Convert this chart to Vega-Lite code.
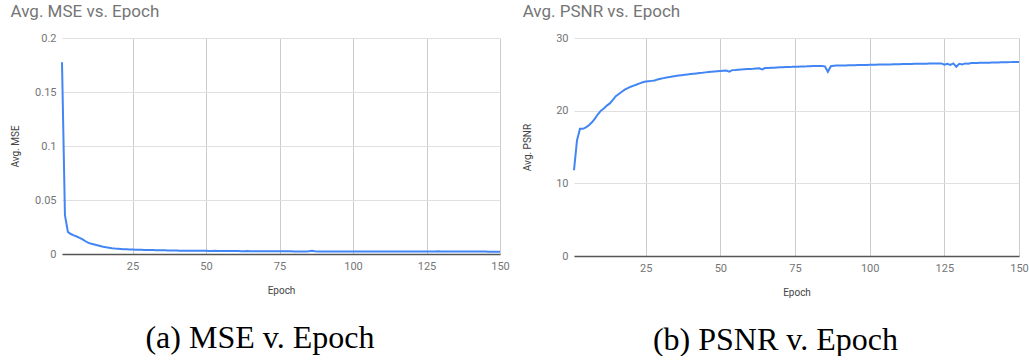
{
  "$schema": "https://vega.github.io/schema/vega-lite/v6.json",
  "padding": {"left": 10, "top": 3, "right": 0, "bottom": 0},
  "background": "white",
  "config": {
    "font": "Roboto",
    "view": {"stroke": null},
    "concat": {"spacing": 12},
    "axis": {
      "labelFont": "Roboto",
      "labelFontSize": 11,
      "labelColor": "#757575",
      "titleFont": "Roboto",
      "titleFontSize": 10,
      "titleFontWeight": "normal",
      "titleColor": "#444444",
      "ticks": false,
      "labelPadding": 6,
      "labelFlush": false
    },
    "axisX": {
      "gridColor": "#cccccc",
      "gridWidth": 1,
      "domainColor": "#555555",
      "domainWidth": 1.5,
      "titlePadding": 14
    },
    "axisY": {
      "gridColor": "#e0e0e0",
      "gridWidth": 1,
      "domain": false
    }
  },
  "datasets": {
    "d": [
      {"epoch": 1, "mse": 0.1776, "psnr": 11.8},
      {"epoch": 2, "mse": 0.036, "psnr": 15.9},
      {"epoch": 3, "mse": 0.0205, "psnr": 17.5},
      {"epoch": 4, "mse": 0.0185, "psnr": 17.5},
      {"epoch": 5, "mse": 0.0172, "psnr": 17.7},
      {"epoch": 6, "mse": 0.0162, "psnr": 18.0},
      {"epoch": 7, "mse": 0.015, "psnr": 18.4},
      {"epoch": 8, "mse": 0.0136, "psnr": 18.9},
      {"epoch": 9, "mse": 0.0118, "psnr": 19.5},
      {"epoch": 10, "mse": 0.0103, "psnr": 20.0},
      {"epoch": 11, "mse": 0.0095, "psnr": 20.3},
      {"epoch": 12, "mse": 0.0088, "psnr": 20.7},
      {"epoch": 13, "mse": 0.0081, "psnr": 21.0},
      {"epoch": 14, "mse": 0.0074, "psnr": 21.5},
      {"epoch": 15, "mse": 0.0067, "psnr": 22.0},
      {"epoch": 16, "mse": 0.0062, "psnr": 22.3},
      {"epoch": 17, "mse": 0.0058, "psnr": 22.6},
      {"epoch": 18, "mse": 0.0054, "psnr": 22.9},
      {"epoch": 19, "mse": 0.0051, "psnr": 23.1},
      {"epoch": 20, "mse": 0.0049, "psnr": 23.3},
      {"epoch": 21, "mse": 0.0047, "psnr": 23.45},
      {"epoch": 22, "mse": 0.0045, "psnr": 23.6},
      {"epoch": 23, "mse": 0.0044, "psnr": 23.75},
      {"epoch": 24, "mse": 0.0042, "psnr": 23.9},
      {"epoch": 25, "mse": 0.0041, "psnr": 24.0},
      {"epoch": 26, "mse": 0.004, "psnr": 24.05},
      {"epoch": 27, "mse": 0.004, "psnr": 24.1},
      {"epoch": 28, "mse": 0.0039, "psnr": 24.15},
      {"epoch": 29, "mse": 0.0038, "psnr": 24.3},
      {"epoch": 30, "mse": 0.0037, "psnr": 24.4},
      {"epoch": 31, "mse": 0.0036, "psnr": 24.48},
      {"epoch": 32, "mse": 0.0036, "psnr": 24.55},
      {"epoch": 33, "mse": 0.0035, "psnr": 24.62},
      {"epoch": 34, "mse": 0.0035, "psnr": 24.7},
      {"epoch": 35, "mse": 0.0034, "psnr": 24.77},
      {"epoch": 36, "mse": 0.0034, "psnr": 24.83},
      {"epoch": 37, "mse": 0.0033, "psnr": 24.88},
      {"epoch": 38, "mse": 0.0033, "psnr": 24.93},
      {"epoch": 39, "mse": 0.0032, "psnr": 24.98},
      {"epoch": 40, "mse": 0.0032, "psnr": 25.03},
      {"epoch": 41, "mse": 0.0031, "psnr": 25.08},
      {"epoch": 42, "mse": 0.0031, "psnr": 25.13},
      {"epoch": 43, "mse": 0.0031, "psnr": 25.18},
      {"epoch": 44, "mse": 0.003, "psnr": 25.22},
      {"epoch": 45, "mse": 0.003, "psnr": 25.27},
      {"epoch": 46, "mse": 0.003, "psnr": 25.31},
      {"epoch": 47, "mse": 0.0029, "psnr": 25.35},
      {"epoch": 48, "mse": 0.0029, "psnr": 25.39},
      {"epoch": 49, "mse": 0.0029, "psnr": 25.43},
      {"epoch": 50, "mse": 0.0029, "psnr": 25.47},
      {"epoch": 51, "mse": 0.0028, "psnr": 25.5},
      {"epoch": 52, "mse": 0.0028, "psnr": 25.53},
      {"epoch": 53, "mse": 0.0029, "psnr": 25.38},
      {"epoch": 54, "mse": 0.0028, "psnr": 25.58},
      {"epoch": 55, "mse": 0.0028, "psnr": 25.6},
      {"epoch": 56, "mse": 0.0028, "psnr": 25.63},
      {"epoch": 57, "mse": 0.0027, "psnr": 25.66},
      {"epoch": 58, "mse": 0.0027, "psnr": 25.69},
      {"epoch": 59, "mse": 0.0027, "psnr": 25.72},
      {"epoch": 60, "mse": 0.0027, "psnr": 25.75},
      {"epoch": 61, "mse": 0.0027, "psnr": 25.77},
      {"epoch": 62, "mse": 0.0026, "psnr": 25.8},
      {"epoch": 63, "mse": 0.0026, "psnr": 25.82},
      {"epoch": 64, "mse": 0.0027, "psnr": 25.68},
      {"epoch": 65, "mse": 0.0026, "psnr": 25.86},
      {"epoch": 66, "mse": 0.0026, "psnr": 25.88},
      {"epoch": 67, "mse": 0.0026, "psnr": 25.9},
      {"epoch": 68, "mse": 0.0026, "psnr": 25.92},
      {"epoch": 69, "mse": 0.0026, "psnr": 25.94},
      {"epoch": 70, "mse": 0.0025, "psnr": 25.96},
      {"epoch": 71, "mse": 0.0025, "psnr": 25.98},
      {"epoch": 72, "mse": 0.0025, "psnr": 26.0},
      {"epoch": 73, "mse": 0.0025, "psnr": 26.02},
      {"epoch": 74, "mse": 0.0025, "psnr": 26.03},
      {"epoch": 75, "mse": 0.0025, "psnr": 26.05},
      {"epoch": 76, "mse": 0.0025, "psnr": 26.06},
      {"epoch": 77, "mse": 0.0025, "psnr": 26.08},
      {"epoch": 78, "mse": 0.0025, "psnr": 26.09},
      {"epoch": 79, "mse": 0.0025, "psnr": 26.1},
      {"epoch": 80, "mse": 0.0024, "psnr": 26.12},
      {"epoch": 81, "mse": 0.0024, "psnr": 26.13},
      {"epoch": 82, "mse": 0.0024, "psnr": 26.14},
      {"epoch": 83, "mse": 0.0024, "psnr": 26.15},
      {"epoch": 84, "mse": 0.0024, "psnr": 26.16},
      {"epoch": 85, "mse": 0.0025, "psnr": 26.1},
      {"epoch": 86, "mse": 0.003, "psnr": 25.35},
      {"epoch": 87, "mse": 0.0025, "psnr": 26.12},
      {"epoch": 88, "mse": 0.0024, "psnr": 26.18},
      {"epoch": 89, "mse": 0.0024, "psnr": 26.2},
      {"epoch": 90, "mse": 0.0024, "psnr": 26.21},
      {"epoch": 91, "mse": 0.0024, "psnr": 26.22},
      {"epoch": 92, "mse": 0.0024, "psnr": 26.23},
      {"epoch": 93, "mse": 0.0024, "psnr": 26.24},
      {"epoch": 94, "mse": 0.0024, "psnr": 26.25},
      {"epoch": 95, "mse": 0.0024, "psnr": 26.26},
      {"epoch": 96, "mse": 0.0023, "psnr": 26.27},
      {"epoch": 97, "mse": 0.0023, "psnr": 26.28},
      {"epoch": 98, "mse": 0.0023, "psnr": 26.29},
      {"epoch": 99, "mse": 0.0023, "psnr": 26.3},
      {"epoch": 100, "mse": 0.0023, "psnr": 26.31},
      {"epoch": 101, "mse": 0.0023, "psnr": 26.32},
      {"epoch": 102, "mse": 0.0023, "psnr": 26.33},
      {"epoch": 103, "mse": 0.0023, "psnr": 26.34},
      {"epoch": 104, "mse": 0.0023, "psnr": 26.35},
      {"epoch": 105, "mse": 0.0023, "psnr": 26.36},
      {"epoch": 106, "mse": 0.0023, "psnr": 26.37},
      {"epoch": 107, "mse": 0.0023, "psnr": 26.37},
      {"epoch": 108, "mse": 0.0023, "psnr": 26.38},
      {"epoch": 109, "mse": 0.0023, "psnr": 26.39},
      {"epoch": 110, "mse": 0.0023, "psnr": 26.4},
      {"epoch": 111, "mse": 0.0023, "psnr": 26.41},
      {"epoch": 112, "mse": 0.0023, "psnr": 26.42},
      {"epoch": 113, "mse": 0.0023, "psnr": 26.42},
      {"epoch": 114, "mse": 0.0023, "psnr": 26.43},
      {"epoch": 115, "mse": 0.0023, "psnr": 26.44},
      {"epoch": 116, "mse": 0.0023, "psnr": 26.45},
      {"epoch": 117, "mse": 0.0023, "psnr": 26.45},
      {"epoch": 118, "mse": 0.0023, "psnr": 26.46},
      {"epoch": 119, "mse": 0.0023, "psnr": 26.47},
      {"epoch": 120, "mse": 0.0023, "psnr": 26.48},
      {"epoch": 121, "mse": 0.0023, "psnr": 26.48},
      {"epoch": 122, "mse": 0.0023, "psnr": 26.49},
      {"epoch": 123, "mse": 0.0023, "psnr": 26.5},
      {"epoch": 124, "mse": 0.0023, "psnr": 26.5},
      {"epoch": 125, "mse": 0.0024, "psnr": 26.32},
      {"epoch": 126, "mse": 0.0023, "psnr": 26.45},
      {"epoch": 127, "mse": 0.0024, "psnr": 26.3},
      {"epoch": 128, "mse": 0.0023, "psnr": 26.5},
      {"epoch": 129, "mse": 0.0025, "psnr": 26.05},
      {"epoch": 130, "mse": 0.0023, "psnr": 26.45},
      {"epoch": 131, "mse": 0.0023, "psnr": 26.35},
      {"epoch": 132, "mse": 0.0023, "psnr": 26.5},
      {"epoch": 133, "mse": 0.0023, "psnr": 26.45},
      {"epoch": 134, "mse": 0.0022, "psnr": 26.55},
      {"epoch": 135, "mse": 0.0022, "psnr": 26.56},
      {"epoch": 136, "mse": 0.0022, "psnr": 26.57},
      {"epoch": 137, "mse": 0.0022, "psnr": 26.58},
      {"epoch": 138, "mse": 0.0022, "psnr": 26.59},
      {"epoch": 139, "mse": 0.0022, "psnr": 26.6},
      {"epoch": 140, "mse": 0.0022, "psnr": 26.61},
      {"epoch": 141, "mse": 0.0022, "psnr": 26.62},
      {"epoch": 142, "mse": 0.0022, "psnr": 26.63},
      {"epoch": 143, "mse": 0.0022, "psnr": 26.64},
      {"epoch": 144, "mse": 0.0022, "psnr": 26.65},
      {"epoch": 145, "mse": 0.0022, "psnr": 26.66},
      {"epoch": 146, "mse": 0.0021, "psnr": 26.67},
      {"epoch": 147, "mse": 0.0021, "psnr": 26.68},
      {"epoch": 148, "mse": 0.0021, "psnr": 26.69},
      {"epoch": 149, "mse": 0.0021, "psnr": 26.7},
      {"epoch": 150, "mse": 0.0021, "psnr": 26.7}
    ]
  },
  "hconcat": [
    {
      "title": {"text": "(a) MSE v. Epoch", "orient": "bottom", "anchor": "middle", "font": "Liberation Serif", "fontSize": 32, "fontWeight": "normal", "color": "#000000", "offset": 28},
      "vconcat": [
        {
          "width": 438,
          "height": 216,
          "title": {"text": "Avg. MSE vs. Epoch", "anchor": "start", "font": "Roboto", "fontSize": 17, "fontWeight": "normal", "color": "#757575", "offset": 11},
          "data": {"name": "d"},
          "mark": {"type": "line", "color": "#4285F4", "strokeWidth": 2},
          "encoding": {
            "x": {"field": "epoch", "type": "quantitative", "scale": {"domain": [1, 150], "nice": false, "zero": false}, "axis": {"values": [25, 50, 75, 100, 125, 150], "title": "Epoch"}},
            "y": {"field": "mse", "type": "quantitative", "scale": {"domain": [0, 0.2], "nice": false}, "axis": {"values": [0, 0.05, 0.1, 0.15, 0.2], "format": "~g", "title": "Avg. MSE", "titlePadding": 14}}
          }
        }
      ]
    },
    {
      "title": {"text": "(b) PSNR v. Epoch", "orient": "bottom", "anchor": "middle", "font": "Liberation Serif", "fontSize": 32, "fontWeight": "normal", "color": "#000000", "offset": 28},
      "vconcat": [
        {
          "width": 445,
          "height": 218,
          "title": {"text": "Avg. PSNR vs. Epoch", "anchor": "start", "font": "Roboto", "fontSize": 17, "fontWeight": "normal", "color": "#757575", "offset": 11},
          "data": {"name": "d"},
          "mark": {"type": "line", "color": "#4285F4", "strokeWidth": 2},
          "encoding": {
            "x": {"field": "epoch", "type": "quantitative", "scale": {"domain": [1, 150], "nice": false, "zero": false}, "axis": {"values": [25, 50, 75, 100, 125, 150], "title": "Epoch"}},
            "y": {"field": "psnr", "type": "quantitative", "scale": {"domain": [0, 30], "nice": false}, "axis": {"values": [0, 10, 20, 30], "title": "Avg. PSNR", "titlePadding": 23}}
          }
        }
      ]
    }
  ]
}
